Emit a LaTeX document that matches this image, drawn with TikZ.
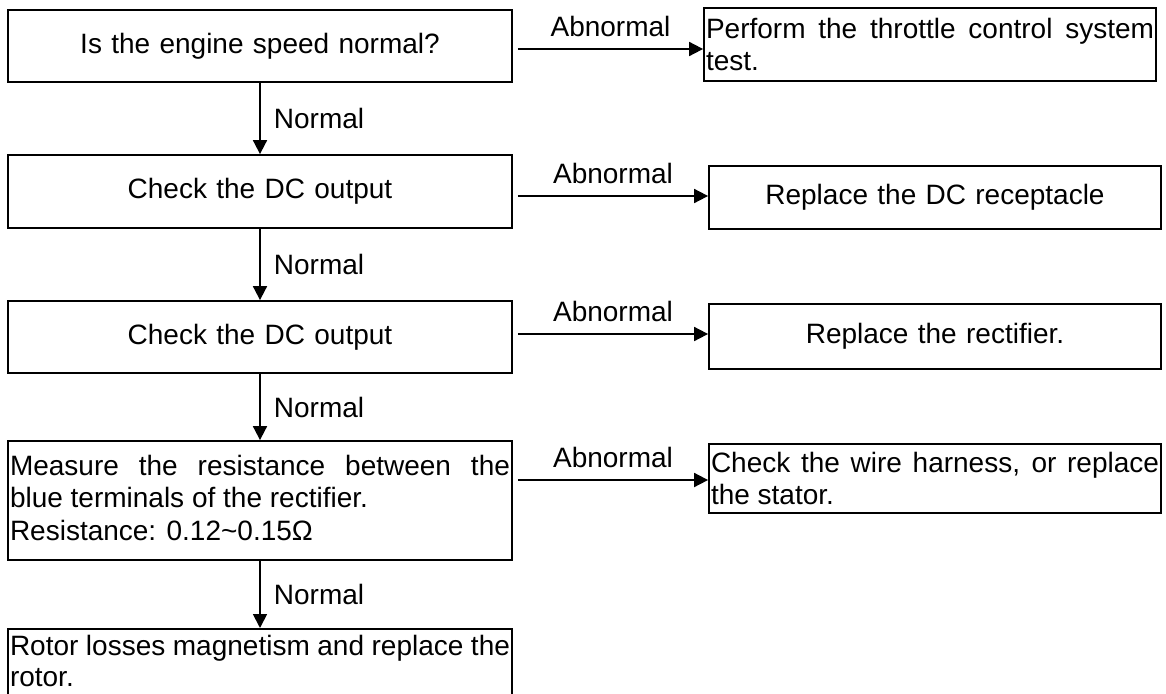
\documentclass[tikz,border=0pt]{standalone}
\usepackage{fontspec}
\setmainfont{Liberation Sans}
\usetikzlibrary{arrows.meta}
\begin{document}
\begin{tikzpicture}[x=1pt,y=-1pt,
  every node/.style={font={\fontsize{28pt}{32.5pt}\selectfont\tolerance=10000\hyphenpenalty=10000}},
  lbox/.style={draw, line width=1.8pt, inner xsep=2pt, inner ysep=0pt, text width=500pt, align=center},
  rbox/.style={draw, line width=1.8pt, inner xsep=2pt, inner ysep=0pt, text width=448pt, align=center},
  jst/.style={align=justify},
  arr/.style={line width=1.8pt, -{Triangle[length=14pt,width=14pt]}},
  nlab/.style={midway, anchor=west, inner sep=0pt, xshift=13pt},
  alab/.style={midway, inner sep=0pt, yshift=23pt}]
\useasboundingbox (0,0) rectangle (1166,693);
\clip (0,0) rectangle (1166,693);
% left column
\node[lbox, minimum height=72pt] (b1) at (260,46) {Is the engine speed normal?};
\node[lbox, minimum height=73pt] (b2) at (260,191.5) {Check the DC output};
\node[lbox, minimum height=72pt] (b3) at (260,337) {Check the DC output};
\node[lbox, jst, minimum height=119pt, text depth=71pt] (b4) at (260,500.5) {Measure the resistance between the\linebreak blue terminals of the rectifier.\newline Resistance: 0.12\textasciitilde0.15Ω};
\node[lbox, jst, anchor=north, inner ysep=6.5pt, text depth=40pt, font={\fontsize{28pt}{31pt}\selectfont\tolerance=10000\hyphenpenalty=10000}] (b5) at (260,628) {Rotor losses magnetism and replace the\linebreak rotor.};
% right column
\node[rbox, jst, minimum height=73pt] (r1) at (930,44.5) {Perform the throttle control system\linebreak test.};
\node[rbox, minimum height=63pt] (r2) at (935,197.5) {Replace the DC receptacle};
\node[rbox, minimum height=65pt] (r3) at (935,336.5) {Replace the rectifier.};
\node[rbox, jst, minimum height=69pt] (r4) at (935,478.5) {Check the wire harness, or replace\linebreak the stator.};
% vertical connectors
\draw[arr] (b1) -- (b2) node[nlab] {Normal};
\draw[arr] (b2) -- (b3) node[nlab] {Normal};
\draw[arr] (b3) -- (b4) node[nlab] {Normal};
\draw[arr] (b4) -- (b4 |- b5.north) node[nlab] {Normal};
% horizontal connectors
\draw[arr] ([xshift=5pt,yshift=-3pt]b1.east) -- ([yshift=-3pt]b1.east -| r1.west) node[alab] {Abnormal};
\draw[arr] ([xshift=5pt,yshift=-4.5pt]b2.east) -- ([yshift=-4.5pt]b2.east -| r2.west) node[alab] {Abnormal};
\draw[arr] ([xshift=5pt,yshift=3pt]b3.east) -- ([yshift=3pt]b3.east -| r3.west) node[alab] {Abnormal};
\draw[arr] ([xshift=5pt,yshift=20.5pt]b4.east) -- ([yshift=20.5pt]b4.east -| r4.west) node[alab] {Abnormal};
\end{tikzpicture}
\end{document}
